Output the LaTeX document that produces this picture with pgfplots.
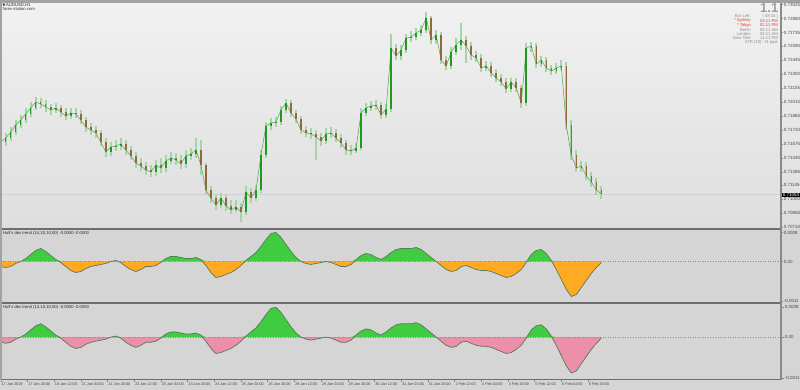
\documentclass[border=0pt]{standalone}
\usepackage{pgfplots}
\pgfplotsset{compat=1.18}
\usepackage{pgfplotstable}
\usepackage{fontspec}
\setmainfont{Liberation Sans}
\newfontfamily\dejavu{DejaVu Sans}
\definecolor{mainTop}{HTML}{F1F1F1}
\definecolor{mainBot}{HTML}{DEDEDE}
\definecolor{subbg}{HTML}{D5D5D5}
\definecolor{framegray}{HTML}{A2A2A2}
\definecolor{sepgray}{HTML}{6E6E6E}
\definecolor{axisgray}{HTML}{8A8A8A}
\definecolor{labgray}{HTML}{454545}
\definecolor{upgreen}{HTML}{1E9A1E}
\definecolor{downbrown}{HTML}{8E6A3C}
\definecolor{wickgreen}{HTML}{A8D2A8}
\definecolor{closegreen}{HTML}{4FA64F}
\definecolor{hgreen}{HTML}{40CC40}
\definecolor{horange}{HTML}{FFAA22}
\definecolor{hpink}{HTML}{EC8FA8}
\definecolor{hline}{HTML}{5A785A}
\definecolor{infogray}{HTML}{8C8C8C}
\definecolor{infored}{HTML}{F03030}

% AUDUSD H1 candles, one row per 3 bars: bar index, open, high, low, close
\pgfplotstableread{
x o h l c
0 0.71574 0.71699 0.71512 0.71595
3 0.71595 0.71689 0.71553 0.71636
6 0.71636 0.71751 0.71605 0.71699
9 0.71699 0.71824 0.71668 0.71772
12 0.71772 0.71876 0.71741 0.71824
15 0.71824 0.71949 0.71793 0.71886
18 0.71886 0.72011 0.71855 0.71949
21 0.71949 0.72063 0.71928 0.72011
24 0.72011 0.72053 0.71949 0.71990
27 0.71990 0.72032 0.71907 0.71959
30 0.71959 0.71990 0.71876 0.71928
33 0.71928 0.72001 0.71897 0.71949
36 0.71949 0.71980 0.71855 0.71907
39 0.71907 0.71949 0.71824 0.71865
42 0.71865 0.71949 0.71834 0.71897
45 0.71897 0.71949 0.71845 0.71886
48 0.71886 0.71928 0.71782 0.71824
51 0.71824 0.71855 0.71699 0.71751
54 0.71751 0.71793 0.71668 0.71720
57 0.71720 0.71761 0.71636 0.71689
60 0.71689 0.71720 0.71553 0.71595
63 0.71595 0.71636 0.71439 0.71491
66 0.71491 0.71595 0.71449 0.71543
69 0.71543 0.71616 0.71501 0.71553
72 0.71553 0.71636 0.71512 0.71574
75 0.71574 0.71616 0.71459 0.71512
78 0.71512 0.71553 0.71407 0.71449
81 0.71449 0.71491 0.71324 0.71376
84 0.71376 0.71428 0.71293 0.71345
87 0.71345 0.71387 0.71251 0.71303
90 0.71303 0.71355 0.71230 0.71283
93 0.71283 0.71407 0.71241 0.71355
96 0.71355 0.71428 0.71272 0.71324
99 0.71324 0.71459 0.71283 0.71397
102 0.71397 0.71491 0.71366 0.71428
105 0.71428 0.71480 0.71355 0.71407
108 0.71407 0.71459 0.71314 0.71366
111 0.71366 0.71512 0.71324 0.71449
114 0.71449 0.71532 0.71407 0.71470
117 0.71470 0.71636 0.71428 0.71512
120 0.71512 0.71616 0.71251 0.71355
123 0.71355 0.71376 0.71043 0.71095
126 0.71095 0.71137 0.70960 0.71012
129 0.71012 0.71054 0.70887 0.70939
132 0.70939 0.71064 0.70908 0.71012
135 0.71012 0.71043 0.70877 0.70929
138 0.70929 0.70991 0.70845 0.70887
141 0.70887 0.70991 0.70866 0.70918
144 0.70918 0.70960 0.70762 0.70866
147 0.70866 0.71137 0.70835 0.71074
150 0.71074 0.71116 0.70960 0.71012
153 0.71012 0.71147 0.70981 0.71095
156 0.71095 0.71512 0.71064 0.71459
159 0.71459 0.71803 0.71428 0.71761
162 0.71761 0.71845 0.71720 0.71793
165 0.71793 0.71855 0.71751 0.71803
168 0.71803 0.71970 0.71772 0.71928
171 0.71928 0.72042 0.71897 0.72001
174 0.72001 0.72032 0.71855 0.71897
177 0.71897 0.71928 0.71793 0.71834
180 0.71834 0.71865 0.71678 0.71720
183 0.71720 0.71761 0.71647 0.71689
186 0.71689 0.71741 0.71626 0.71678
189 0.71678 0.71720 0.71407 0.71647
192 0.71647 0.71689 0.71553 0.71605
195 0.71605 0.71741 0.71574 0.71678
198 0.71678 0.71751 0.71636 0.71689
201 0.71689 0.71730 0.71595 0.71636
204 0.71636 0.71678 0.71532 0.71584
207 0.71584 0.71616 0.71459 0.71512
210 0.71512 0.71564 0.71459 0.71501
213 0.71501 0.71584 0.71480 0.71532
216 0.71532 0.71949 0.71512 0.71897
219 0.71897 0.72001 0.71865 0.71949
222 0.71949 0.72022 0.71918 0.71970
225 0.71970 0.72032 0.71928 0.71980
228 0.71980 0.72011 0.71834 0.71876
231 0.71876 0.71990 0.71845 0.71938
234 0.71938 0.72719 0.71907 0.72573
237 0.72573 0.72615 0.72448 0.72490
240 0.72490 0.72605 0.72448 0.72553
243 0.72553 0.72719 0.72521 0.72677
246 0.72677 0.72750 0.72636 0.72688
249 0.72688 0.72782 0.72657 0.72730
252 0.72730 0.72813 0.72698 0.72761
255 0.72761 0.72948 0.72730 0.72886
258 0.72886 0.72906 0.72615 0.72657
261 0.72657 0.72761 0.72615 0.72709
264 0.72709 0.72740 0.72407 0.72448
267 0.72448 0.72490 0.72344 0.72386
270 0.72386 0.72584 0.72355 0.72532
273 0.72532 0.72677 0.72500 0.72605
276 0.72605 0.72834 0.72553 0.72657
279 0.72657 0.72698 0.72417 0.72594
282 0.72594 0.72636 0.72448 0.72500
285 0.72500 0.72542 0.72428 0.72469
288 0.72469 0.72511 0.72324 0.72365
291 0.72365 0.72438 0.72334 0.72386
294 0.72386 0.72428 0.72271 0.72313
297 0.72313 0.72355 0.72219 0.72261
300 0.72261 0.72303 0.72178 0.72219
303 0.72219 0.72261 0.72105 0.72147
306 0.72147 0.72261 0.72115 0.72219
309 0.72219 0.72261 0.72115 0.72157
312 0.72157 0.72188 0.71949 0.72001
315 0.72001 0.72625 0.71970 0.72573
318 0.72573 0.72636 0.72532 0.72594
321 0.72594 0.72625 0.72365 0.72407
324 0.72407 0.72490 0.72376 0.72448
327 0.72448 0.72480 0.72324 0.72365
330 0.72365 0.72396 0.72292 0.72334
333 0.72334 0.72417 0.72303 0.72365
336 0.72365 0.72448 0.72344 0.72386
339 0.72386 0.72428 0.71720 0.71772
342 0.71772 0.71824 0.71407 0.71459
345 0.71459 0.71512 0.71283 0.71324
348 0.71324 0.71397 0.71283 0.71345
351 0.71345 0.71387 0.71199 0.71241
354 0.71241 0.71283 0.71126 0.71178
357 0.71178 0.71220 0.71043 0.71095
360 0.71095 0.71137 0.71001 0.71054
}\price

% Hull's dex trend, in units of 0.0001
\pgfplotstableread{
x v
0 -1.39
3 -1.66
6 -1.39
9 -0.55
12 0
15 0.83
18 1.94
21 3.05
24 3.60
27 2.77
30 1.66
33 0.55
36 -0.28
39 -1.39
42 -2.49
45 -3.05
48 -2.77
51 -1.94
54 -1.39
57 -1.11
60 -0.83
63 -0.55
66 0
69 0.28
72 -0.28
75 -1.39
78 -2.22
81 -2.77
84 -2.22
87 -1.39
90 -1.39
93 -1.11
96 -0.28
99 0.83
102 1.39
105 1.39
108 1.11
111 0.83
114 0.83
117 1.11
120 0.55
123 -1.11
126 -3.05
129 -4.43
132 -4.16
135 -3.60
138 -3.05
141 -2.22
144 -1.11
147 0.28
150 1.39
153 2.49
156 4.16
159 6.09
162 7.76
165 8.03
168 6.65
171 4.71
174 2.77
177 1.11
180 0
183 -0.55
186 -0.83
189 -0.55
192 -0.28
195 0
198 -0.28
201 -0.83
204 -1.39
207 -1.39
210 -0.83
213 0.55
216 1.66
219 2.22
222 1.94
225 1.11
228 0.55
231 1.39
234 2.49
237 3.32
240 3.60
243 3.60
246 3.60
249 3.88
252 3.32
255 2.22
258 1.11
261 0
264 -1.11
267 -2.22
270 -2.77
273 -2.49
276 -1.39
279 -1.11
282 -1.66
285 -2.22
288 -2.49
291 -2.49
294 -2.77
297 -3.32
300 -3.88
303 -4.43
306 -4.16
309 -3.32
312 -2.22
315 -0.28
318 1.94
321 3.05
324 3.32
327 2.22
330 0.28
333 -2.22
336 -4.99
339 -7.76
342 -9.70
345 -9.14
348 -7.20
351 -5.26
354 -3.32
357 -1.66
360 -0.28
}\ind

\pgfplotsset{
  mt/.style={
    scale only axis, anchor=south west, width=781pt,
    xmin=-0.42, xmax=467.7,
    scaled y ticks=false, scaled x ticks=false,
    axis line style={draw=none},
    tick align=outside, ytick pos=right, yticklabel pos=right,
    major tick length=2pt,
    tick style={draw=axisgray, line width=0.4pt},
    tick label style={font=\fontsize{4.5}{5}\selectfont, text=labgray},
    yticklabel style={anchor=west, inner sep=0.6pt},
  },
}

\begin{document}
\begin{tikzpicture}
\path[use as bounding box] (0pt,0pt) rectangle (800pt,390pt);
\fill[subbg] (0pt,0pt) rectangle (800pt,390pt);
\shade[top color=mainTop, bottom color=mainBot] (0pt,161pt) rectangle (800pt,387pt);
\fill[framegray] (0pt,387pt) rectangle (800pt,390pt);

% main price panel
\begin{axis}[mt, at={(0pt,161pt)}, height=226pt, name=main,
  ymin=0.70689, ymax=0.73042, xtick=\empty,
  ytick={0.70710,0.70855,0.71000,0.71145,0.71285,0.71430,0.71575,0.71720,0.71865,0.72010,0.72155,0.72300,0.72445,0.72590,0.72735,0.72880,0.73025},
  yticklabels={0.70710,0.70855,0.71000,0.71145,0.71285,0.71430,0.71575,0.71720,0.71865,0.72010,0.72155,0.72300,0.72445,0.72590,0.72735,0.72880,0.73025}]
\addplot[draw=black!18, line width=0.4pt] coordinates {(-0.42,0.71054) (467.7,0.71054)};
\addplot[draw=none, mark=none, error bars/.cd, y dir=plus, y explicit, error mark=none,
  error bar style={draw=wickgreen, line width=2.3pt, line cap=butt}]
  table[x=x, y=l, y error expr=\thisrow{h}-\thisrow{l}] {\price};
\addplot[draw=closegreen, line width=0.5pt, mark=none] table[x=x, y=c] {\price};
\addplot[draw=none, mark=none, error bars/.cd, y dir=plus, y explicit, error mark=none,
  error bar style={draw=upgreen, line width=1.5pt, line cap=butt}]
  table[x=x, y=o, y error expr={max(\thisrow{c}-\thisrow{o},0)}] {\price};
\addplot[draw=none, mark=none, error bars/.cd, y dir=plus, y explicit, error mark=none,
  error bar style={draw=downbrown, line width=1.5pt, line cap=butt}]
  table[x=x, y=c, y error expr={max(\thisrow{o}-\thisrow{c},0)}] {\price};
\end{axis}

% indicator panel 1
\begin{axis}[mt, at={(main.south west)}, anchor=north west, height=74pt, name=ind1,
  ymin=-11.5, ymax=9.0, xtick=\empty,
  ytick={-11,0,8}, yticklabels={-0.0011,0.00,0.0008}]
\addplot[draw=none, fill=hgreen] table[x=x, y expr={max(\thisrow{v},0)}] {\ind} \closedcycle;
\addplot[draw=none, fill=horange] table[x=x, y expr={min(\thisrow{v},0)}] {\ind} \closedcycle;
\addplot[draw=black!45, line width=0.4pt, dash pattern=on 1pt off 1.5pt] coordinates {(-0.42,0) (467.7,0)};
\addplot[draw=hline, line width=0.7pt] table[x=x, y=v] {\ind};
\end{axis}

% indicator panel 2
\begin{axis}[mt, at={(ind1.south west)}, anchor=north west, height=76pt,
  ymin=-11.3, ymax=9.2,
  ytick={-11,0,8}, yticklabels={-0.0011,0.00,0.0008},
  xtick pos=left, xticklabel pos=left,
  major tick length=3pt,
  xticklabel style={font=\fontsize{3.8}{4}\selectfont, anchor=north west, inner sep=0.3pt, xshift=0.4pt, yshift=-0.5pt},
  xtick={0,16,...,352},
  xticklabels={17 Jan 2019,17 Jan 20:00,18 Jan 12:00,21 Jan 04:00,21 Jan 20:00,22 Jan 12:00,23 Jan 04:00,23 Jan 20:00,24 Jan 12:00,25 Jan 04:00,25 Jan 20:00,28 Jan 12:00,29 Jan 04:00,29 Jan 20:00,30 Jan 12:00,31 Jan 04:00,31 Jan 20:00,1 Feb 12:00,4 Feb 04:00,4 Feb 20:00,5 Feb 12:00,6 Feb 04:00,6 Feb 20:00}]
\addplot[draw=none, fill=hgreen] table[x=x, y expr={max(\thisrow{v},0)}] {\ind} \closedcycle;
\addplot[draw=none, fill=hpink] table[x=x, y expr={min(\thisrow{v},0)}] {\ind} \closedcycle;
\addplot[draw=black!45, line width=0.4pt, dash pattern=on 1pt off 1.5pt] coordinates {(-0.42,0) (467.7,0)};
\addplot[draw=hline, line width=0.7pt] table[x=x, y=v] {\ind};
\end{axis}

% frame lines
\draw[sepgray, line width=1.6pt] (0pt,161pt) -- (781pt,161pt);
\draw[sepgray, line width=1.6pt] (0pt,87pt) -- (781pt,87pt);
\draw[sepgray, line width=1.2pt] (0pt,10.6pt) -- (781pt,10.6pt);
\draw[axisgray, line width=1.6pt] (781pt,10pt) -- (781pt,387pt);
\fill[framegray] (0pt,10pt) rectangle (1.6pt,387pt);

% current price box
\node[fill=black, text=white, font=\fontsize{4.5}{5}\selectfont, inner sep=0.6pt, anchor=west] at (782pt,194.8pt) {0.71054};

% titles
\node[anchor=north west, inner sep=0pt, font=\fontsize{4.2}{5}\selectfont, text=black!85] at (2.5pt,386.6pt) {{\dejavu\fontsize{3.6}{4}\selectfont ▼}\,AUDUSD,H1};
\node[anchor=north west, inner sep=0pt, font=\fontsize{4.2}{5}\selectfont, text=black!80] at (2.5pt,383pt) {forex-station.com};
\node[anchor=north west, inner sep=0pt, font=\fontsize{4.2}{5}\selectfont, text=black!85] at (3pt,159pt) {Hull's dex trend (14,10,10,00) -0.0000 -0.0000};
\node[anchor=north west, inner sep=0pt, font=\fontsize{4.2}{5}\selectfont, text=black!85] at (3pt,85pt) {Hull's dex trend (14,10,10,00) -0.0000 -0.0000};

% info block
\node[anchor=north east, inner sep=0pt, font=\bfseries\fontsize{13}{13}\selectfont, text=black!38] at (778.5pt,386.3pt) {1.1};
\begin{scope}[every node/.style={inner sep=0pt, font=\fontsize{4.2}{5}\selectfont}]
\node[anchor=east, text=infogray] at (751pt,373.6pt) {Bar Left:};
\node[anchor=east, text=infogray] at (778pt,373.6pt) {[ 48:34 ]};
\node[anchor=east, text=infored] at (751pt,369.2pt) {* Sydney};
\node[anchor=east, text=infored] at (778pt,369.2pt) {03:11 PM};
\node[anchor=east, text=infored] at (751pt,364.8pt) {* Tokyo};
\node[anchor=east, text=infored] at (778pt,364.8pt) {01:11 PM};
\node[anchor=east, text=infogray] at (751pt,360.4pt) {Berlin};
\node[anchor=east, text=infogray] at (778pt,360.4pt) {05:11 AM};
\node[anchor=east, text=infogray] at (751pt,356pt) {London};
\node[anchor=east, text=infogray] at (778pt,356pt) {04:11 AM};
\node[anchor=east, text=infogray] at (751pt,351.6pt) {New York};
\node[anchor=east, text=infogray] at (778pt,351.6pt) {11:11 PM};
\node[anchor=east, text=infogray] at (778pt,347.2pt) {ATR (20): 31 pips};
\end{scope}
\end{tikzpicture}
\end{document}
